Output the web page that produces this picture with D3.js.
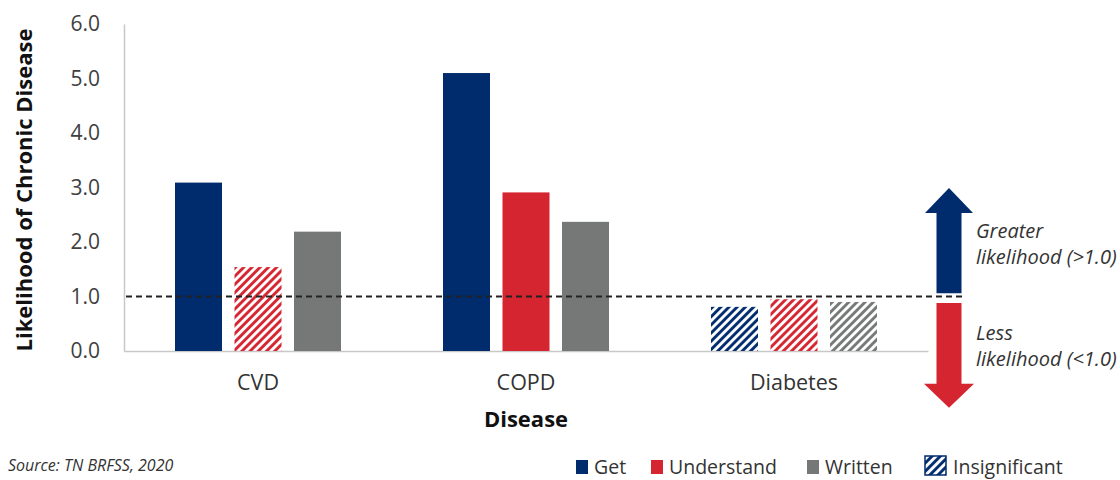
<!DOCTYPE html>
<html>
<head>
<meta charset="utf-8">
<script src="https://cdn.jsdelivr.net/npm/d3@7"></script>
<style>
  body { margin: 0; background: #fff; }
  svg { font-family: "Open Sans", sans-serif; }
</style>
</head>
<body>
<div id="graph"></div>
<script>
// data
const diseases = ["CVD", "COPD", "Diabetes"];
const measures = ["Get", "Understand", "Written"];
const getVals = [3.09, 5.10, 0.81];
const understandVals = [1.54, 2.91, 0.95];
const writtenVals = [2.19, 2.37, 0.90];
// which bars are not significant (hatched)
const getInsig = [false, false, true];
const understandInsig = [true, false, true];
const writtenInsig = [false, false, true];
const yTicks = [0, 1, 2, 3, 4, 5, 6];
const refValue = 1.0;

const colors = { Get: "#002b6d", Understand: "#d42530", Written: "#767878" };

const rows = [];
diseases.forEach((d, i) => {
  rows.push({ disease: d, measure: "Get", value: getVals[i], insig: getInsig[i] });
  rows.push({ disease: d, measure: "Understand", value: understandVals[i], insig: understandInsig[i] });
  rows.push({ disease: d, measure: "Written", value: writtenVals[i], insig: writtenInsig[i] });
});

let margin = {top: 24, right: 192, bottom: 129, left: 124},
    width = 1120 - margin.left - margin.right,
    height = 480 - margin.top - margin.bottom;

let root = d3.select("#graph")
    .append("svg")
    .attr("width", 1120)
    .attr("height", 480);

// hatch patterns
let defs = root.append("defs");
measures.forEach(m => {
  let p = defs.append("pattern")
      .attr("id", "hatch-" + m)
      .attr("patternUnits", "userSpaceOnUse")
      .attr("width", 5.8)
      .attr("height", 5.8)
      .attr("patternTransform", "rotate(45)");
  p.append("line")
      .attr("x1", 1.5).attr("y1", 0)
      .attr("x2", 1.5).attr("y2", 5.8)
      .attr("stroke", colors[m])
      .attr("stroke-width", 2.9);
});

let svg = root.append("g")
    .attr("transform", "translate(" + margin.left + "," + margin.top + ")");

let groupWidth = 166;

let x = d3.scaleBand()
    .domain(diseases)
    .range([0, width]);

let xInner = d3.scaleBand()
    .domain(measures)
    .range([0, groupWidth])
    .paddingInner(0.21);

let y = d3.scaleLinear()
    .domain([0, 6])
    .range([height, 0]);

// axes
let yAxis = svg.append("g")
    .call(d3.axisLeft(y).tickValues(yTicks).tickFormat(d3.format(".1f")).tickSize(0).tickPadding(24));
yAxis.select(".domain").attr("stroke", "#c8c8c8").attr("stroke-width", 1.5);
yAxis.selectAll("text").attr("font-size", 21).attr("fill", "#404040")
    .attr("font-family", "'Open Sans', sans-serif");

let xAxis = svg.append("g")
    .attr("transform", "translate(0," + height + ")")
    .call(d3.axisBottom(x).tickSize(0).tickPadding(24));
xAxis.select(".domain").attr("stroke", "#c8c8c8").attr("stroke-width", 1.5);
xAxis.selectAll("text").attr("font-size", 21.5).attr("fill", "#333")
    .attr("font-family", "'Open Sans', sans-serif");

// bars
svg.append("g")
  .selectAll("rect")
  .data(rows)
  .enter()
  .append("rect")
    .attr("x", d => x(d.disease) + (x.bandwidth() - groupWidth) / 2 + xInner(d.measure))
    .attr("width", xInner.bandwidth())
    .attr("y", d => y(d.value))
    .attr("height", d => y(0) - y(d.value))
    .attr("fill", d => d.insig ? "url(#hatch-" + d.measure + ")" : colors[d.measure]);

// reference line at 1.0
svg.append("line")
    .attr("x1", 2)
    .attr("x2", width + 36)
    .attr("y1", y(refValue))
    .attr("y2", y(refValue))
    .attr("stroke", "#222")
    .attr("stroke-width", 2)
    .attr("stroke-dasharray", "6,4");

// arrows
let ax = width + 21;  // center of arrows
svg.append("path")
    .attr("fill", colors.Get)
    .attr("d", `M${ax},${y(2.99)} L${ax + 24},${y(2.53)} L${ax + 12.5},${y(2.53)} L${ax + 12.5},${y(1.06)} L${ax - 12.5},${y(1.06)} L${ax - 12.5},${y(2.53)} L${ax - 24},${y(2.53)} Z`);
svg.append("path")
    .attr("fill", colors.Understand)
    .attr("d", `M${ax - 12.5},${y(0.88)} L${ax + 12.5},${y(0.88)} L${ax + 12.5},${y(-0.6)} L${ax + 25},${y(-0.6)} L${ax},${y(-1.04)} L${ax - 25},${y(-0.6)} L${ax - 12.5},${y(-0.6)} Z`);

let note = svg.append("g")
    .attr("font-style", "italic")
    .attr("font-size", 20)
    .attr("fill", "#333");
note.append("text").attr("x", width + 48).attr("y", y(2.08)).text("Greater");
note.append("text").attr("x", width + 48).attr("y", y(1.6)).text("likelihood (>1.0)");
note.append("text").attr("x", width + 48).attr("y", y(0.2)).text("Less");
note.append("text").attr("x", width + 48).attr("y", y(-0.28)).text("likelihood (<1.0)");

// axis titles
root.append("text")
    .attr("transform", "translate(32,190) rotate(-90)")
    .attr("text-anchor", "middle")
    .attr("font-weight", "bold")
    .attr("font-size", 22)
    .attr("fill", "#111")
    .text("Likelihood of Chronic Disease");

root.append("text")
    .attr("x", 526)
    .attr("y", 427)
    .attr("text-anchor", "middle")
    .attr("font-weight", "bold")
    .attr("font-size", 22)
    .attr("fill", "#111")
    .text("Disease");

root.append("text")
    .attr("x", 8)
    .attr("y", 471)
    .attr("font-style", "italic")
    .attr("font-size", 16)
    .attr("fill", "#333")
    .text("Source: TN BRFSS, 2020");

// legend
let legendItems = [
  { label: "Get", x: 576, fill: colors.Get },
  { label: "Understand", x: 651, fill: colors.Understand },
  { label: "Written", x: 807, fill: colors.Written }
];
let legend = root.append("g");
legendItems.forEach(l => {
  legend.append("rect").attr("x", l.x).attr("y", 460).attr("width", 12).attr("height", 14).attr("fill", l.fill);
  legend.append("text").attr("x", l.x + 18).attr("y", 474).attr("font-size", 19.5).attr("fill", "#333").text(l.label);
});
legend.append("rect").attr("x", 925).attr("y", 456).attr("width", 21).attr("height", 19)
    .attr("fill", "url(#hatch-Get)").attr("stroke", colors.Get).attr("stroke-width", 1.5);
legend.append("text").attr("x", 953).attr("y", 474).attr("font-size", 19.5).attr("fill", "#333").text("Insignificant");
</script>
</body>
</html>
